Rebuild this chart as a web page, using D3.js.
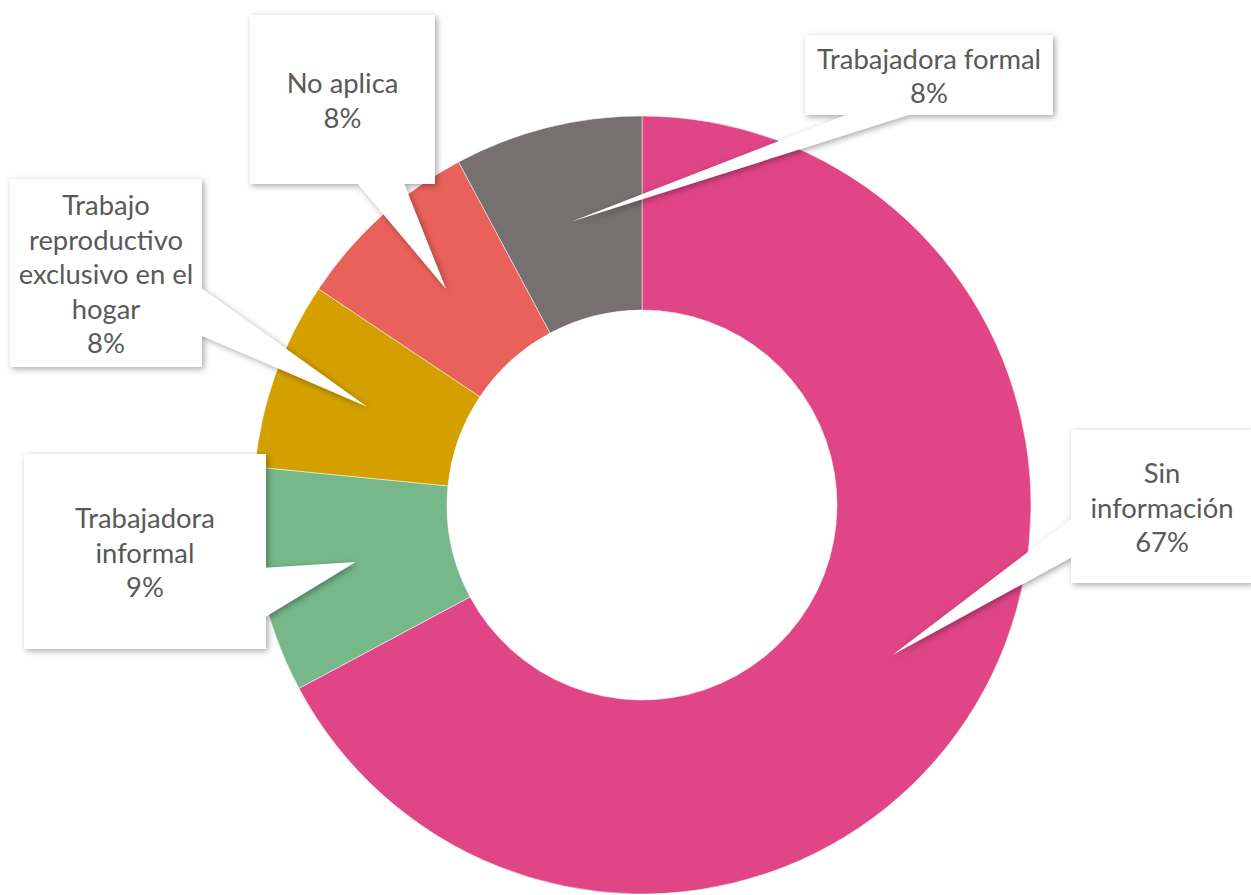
<!DOCTYPE html>
<html>
<head>
<meta charset="utf-8">
<script src="https://cdn.jsdelivr.net/npm/d3@7"></script>
<style>
  html, body { margin: 0; padding: 0; background: #fff; overflow: hidden; }
  text { font-family: Lato, "Open Sans", sans-serif; }
</style>
</head>
<body>
<script>
// data (clockwise from 12 o'clock)
let categories = ["Sin información", "Trabajadora informal",
    "Trabajo reproductivo exclusivo en el hogar", "No aplica", "Trabajadora formal"];
let counts = [86, 12, 10, 10, 10];
let labelLines = [
    ["Sin", "información"],
    ["Trabajadora", "informal"],
    ["Trabajo", "reproductivo", "exclusivo en el", "hogar"],
    ["No aplica"],
    ["Trabajadora formal"]];
let sliceColors = ["#E04586", "#76B889", "#D3A000", "#E8615A", "#767070"];

let width = 1251,
    height = 895;

let center = {x: 642, y: 505},
    outerR = 389,
    innerR = 195;

// callout boxes as they were placed by hand in the original
let boxes = [
    {cx: 1162, cy: 506.5, w: 182, h: 153},
    {cx: 145, cy: 551.5, w: 242, h: 195},
    {cx: 106, cy: 273, w: 192, h: 188},
    {cx: 342.5, cy: 99.5, w: 185, h: 169},
    {cx: 929, cy: 75, w: 248, h: 80}];

let total = d3.sum(counts);
let pct = d3.format(".0%");

let pie = d3.pie().sort(null).value((d) => d);
let arcs = pie(counts);

let arcGen = d3.arc().innerRadius(innerR).outerRadius(outerR);

let svg = d3.select("body")
    .append("svg")
    .attr("width", width)
    .attr("height", height);

let defs = svg.append("defs");
defs.append("filter")
    .attr("id", "shadow")
    .attr("x", "-20%").attr("y", "-20%")
    .attr("width", "140%").attr("height", "140%")
    .append("feDropShadow")
    .attr("dx", 2).attr("dy", 2)
    .attr("stdDeviation", 3)
    .attr("flood-color", "#000")
    .attr("flood-opacity", 0.35);

let chartGroup = svg.append("g")
    .attr("transform", `translate(${center.x},${center.y})`);

chartGroup.selectAll("path.slice")
    .data(arcs)
    .enter().append("path")
    .attr("class", "slice")
    .attr("d", arcGen)
    .attr("fill", (d, i) => sliceColors[i])
    .attr("stroke", "rgba(255,255,255,0.5)")
    .attr("stroke-width", 1);

// office style rectangular callout with a wedge pointing at the tip
function calloutPath(b, tx, ty) {
    let x0 = b.cx - b.w / 2, y0 = b.cy - b.h / 2,
        x1 = b.cx + b.w / 2, y1 = b.cy + b.h / 2;
    let dx = tx - b.cx, dy = ty - b.cy;
    let p = `M${x0},${y0}`;
    if (Math.abs(dx) / b.w > Math.abs(dy) / b.h) {
        let ya = dy < 0 ? y0 + b.h / 6 : y0 + 7 * b.h / 12;
        let yb = dy < 0 ? y0 + 5 * b.h / 12 : y0 + 5 * b.h / 6;
        if (dx > 0) {
            p += `L${x1},${y0}L${x1},${ya}L${tx},${ty}L${x1},${yb}L${x1},${y1}L${x0},${y1}Z`;
        } else {
            p += `L${x1},${y0}L${x1},${y1}L${x0},${y1}L${x0},${yb}L${tx},${ty}L${x0},${ya}Z`;
        }
    } else {
        let xa = dx < 0 ? x0 + b.w / 6 : x0 + 7 * b.w / 12;
        let xb = dx < 0 ? x0 + 5 * b.w / 12 : x0 + 5 * b.w / 6;
        if (dy > 0) {
            p += `L${x1},${y0}L${x1},${y1}L${xb},${y1}L${tx},${ty}L${xa},${y1}L${x0},${y1}Z`;
        } else {
            p += `L${xa},${y0}L${tx},${ty}L${xb},${y0}L${x1},${y0}L${x1},${y1}L${x0},${y1}Z`;
        }
    }
    return p;
}

let labelGroup = svg.append("g");

let labels = labelGroup.selectAll("g.label")
    .data(arcs)
    .enter().append("g")
    .attr("class", "label");

labels.append("path")
    .attr("d", (d, i) => {
        let c = arcGen.centroid(d);
        return calloutPath(boxes[i], center.x + c[0], center.y + c[1]);
    })
    .attr("fill", "#fff")
    .attr("filter", "url(#shadow)");

let lineH = 34.5;
labels.append("text")
    .attr("text-anchor", "middle")
    .attr("fill", "#595959")
    .attr("font-size", "27.4px")
    .each(function(d, i) {
        let lines = labelLines[i].concat([pct(counts[i] / total)]);
        let b = boxes[i];
        let n = lines.length;
        d3.select(this).selectAll("tspan")
            .data(lines)
            .enter().append("tspan")
            .attr("x", b.cx)
            .attr("y", (t, j) => b.cy + 11 + (j - (n - 1) / 2) * lineH)
            .text((t) => t);
    });
</script>
</body>
</html>
